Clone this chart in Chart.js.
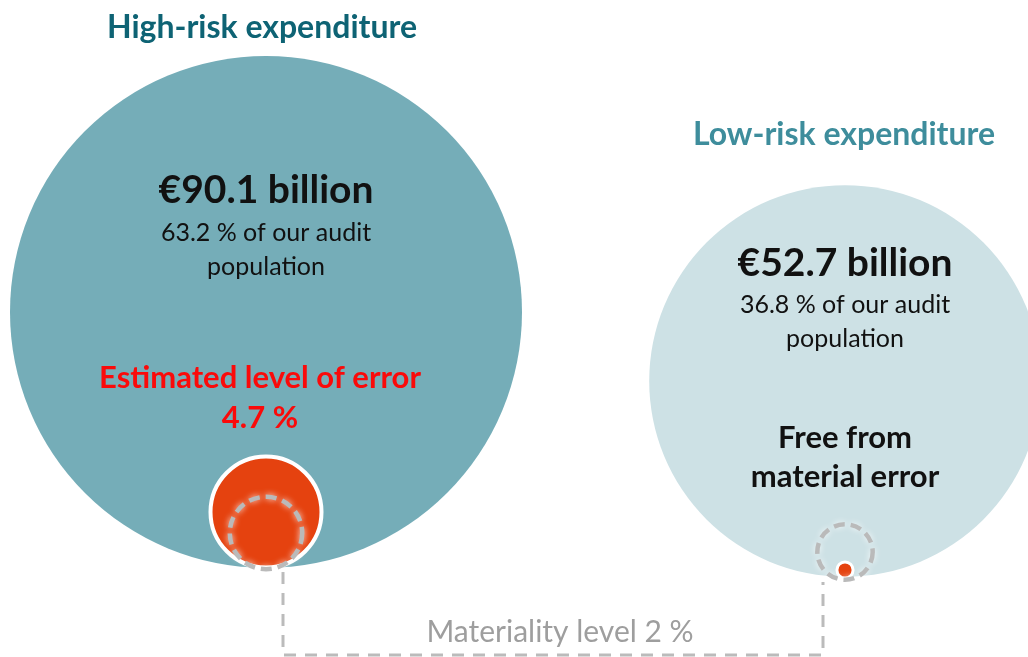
<!DOCTYPE html>
<html lang="en">
<head>
  <meta charset="UTF-8">
  <title>Audit population</title>
  <style>
    html, body { margin: 0; padding: 0; background: white; }
    #wrap { width: 1028px; height: 657px; }
  </style>
  <script src="https://cdn.jsdelivr.net/npm/chart.js@4/dist/chart.umd.js"></script>
</head>
<body>
  <div id="wrap"><canvas id="riskChart" width="1028" height="657"></canvas></div>
  <script>
    // data
    const categories = ['High-risk expenditure', 'Low-risk expenditure'];
    const amountsBn = [90.1, 52.7];
    const sharePct = [63.2, 36.8];
    const errorPct = [4.7, 0.17];
    const materialityPct = 2;
    const errorText = ['Estimated level of error', 'Free from material error'];

    // layout (pixel units on hidden linear scales)
    const centerX = [266, 845];
    const centerY = [312, 381];
    const maxRadius = 256;
    const rad = v => maxRadius * Math.sqrt(v / amountsBn[0]);
    const outerR = amountsBn.map(rad);
    const errR = amountsBn.map((a, i) => outerR[i] * Math.sqrt(errorPct[i] / 100));
    const matR = amountsBn.map((a, i) => outerR[i] * Math.sqrt(materialityPct / 100));
    const errY = [512, 570];
    const matY = [533, 552];
    const connectorX = [283, 283, 823, 823];
    const connectorY = [572, 655, 655, 582];

    const textPlugin = {
      id: 'texts',
      afterDatasetsDraw(chart) {
        const { ctx, scales: { x, y } } = chart;
        const put = (t, px, py, font, color) => {
          ctx.font = font; ctx.fillStyle = color;
          ctx.textAlign = 'center'; ctx.textBaseline = 'middle';
          ctx.fillText(t, x.getPixelForValue(px), y.getPixelForValue(py));
        };
        // dashed materiality rings
        chart.getDatasetMeta(2).data.forEach(pt => {
          ctx.save();
          ctx.beginPath();
          ctx.arc(pt.x, pt.y, pt.options.radius, 0, Math.PI * 2);
          ctx.setLineDash([11, 6]);
          ctx.lineWidth = 4.5;
          ctx.strokeStyle = '#BABABA';
          ctx.shadowColor = 'rgba(255,255,255,0.85)';
          ctx.shadowBlur = 6;
          ctx.stroke();
          ctx.restore();
        });
        const F = 'Lato, "Open Sans", sans-serif';
        put(categories[0], 262, 28, `bold 32px ${F}`, '#0E6374');
        put(categories[1], 844, 135, `bold 32px ${F}`, '#3E8D9C');
        put(`€${amountsBn[0]} billion`, 266, 190, `bold 39px ${F}`, '#111');
        put(`${sharePct[0]} % of our audit`, 266, 233, `25px ${F}`, '#111');
        put('population', 266, 267, `25px ${F}`, '#111');
        put(errorText[0], 260, 378, `bold 31px ${F}`, '#FA0A0A');
        put(`${errorPct[0]} %`, 260, 418, `bold 31px ${F}`, '#FA0A0A');
        put(`€${amountsBn[1]} billion`, 845, 263, `bold 39px ${F}`, '#111');
        put(`${sharePct[1]} % of our audit`, 845, 305, `25px ${F}`, '#111');
        put('population', 845, 339, `25px ${F}`, '#111');
        put('Free from', 845, 438, `bold 31px ${F}`, '#111');
        put('material error', 845, 477, `bold 31px ${F}`, '#111');
        put(`Materiality level ${materialityPct} %`, 560, 632, `30px ${F}`, '#9E9E9E');
      }
    };

    new Chart(document.getElementById('riskChart'), {
      data: {
        datasets: [
          {
            type: 'bubble', label: 'Expenditure', order: 5, clip: false,
            data: categories.map((c, i) => ({ x: centerX[i], y: centerY[i], r: outerR[i] })),
            backgroundColor: ['#75ADB8', '#CDE1E5'], borderWidth: 0
          },
          {
            type: 'bubble', label: 'Error', order: 3, clip: false,
            data: categories.map((c, i) => ({ x: centerX[i], y: errY[i], r: errR[i] })),
            backgroundColor: '#E5420F', borderColor: '#FFFFFF', borderWidth: [4, 3]
          },
          {
            type: 'bubble', label: 'Materiality', order: 4, clip: false,
            data: categories.map((c, i) => ({ x: centerX[i], y: matY[i], r: matR[i] })),
            backgroundColor: 'rgba(0,0,0,0)', borderWidth: 0
          },
          {
            type: 'line', label: 'Connector', order: 6, clip: false,
            data: connectorX.map((v, i) => ({ x: v, y: connectorY[i] })),
            borderColor: '#BBBBBB', borderWidth: 3, borderDash: [12, 9],
            pointRadius: 0, fill: false, tension: 0
          }
        ]
      },
      options: {
        responsive: false, animation: false,
        layout: { padding: 0, autoPadding: false },
        plugins: { legend: { display: false }, tooltip: { enabled: false } },
        scales: {
          x: { type: 'linear', min: 0, max: 1028, display: false },
          y: { type: 'linear', min: 0, max: 657, reverse: true, display: false }
        }
      },
      plugins: [textPlugin]
    });
  </script>
</body>
</html>
